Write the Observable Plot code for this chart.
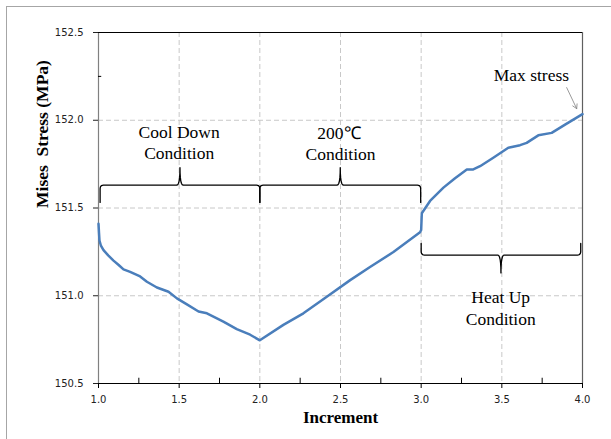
<!DOCTYPE html>
<html><head><meta charset="utf-8">
<script src="https://cdn.jsdelivr.net/npm/d3@7"></script>
<script src="https://cdn.jsdelivr.net/npm/@observablehq/plot@0.6"></script>
<style>
body{margin:0;background:#fff}
#chart{position:absolute;left:0;top:0}
#frame{position:absolute;left:6px;top:6px;width:620px;height:450px;border-left:1px solid #a6a6a6;border-top:1px solid #a6a6a6;pointer-events:none}
</style>
</head><body>
<div id="chart"></div><div id="frame"></div>
<script>
const increment = [1.0, 1.003, 1.006, 1.015, 1.031, 1.06, 1.093, 1.125, 1.155, 1.196, 1.258, 1.30, 1.362, 1.434, 1.486, 1.548, 1.62, 1.672, 1.774, 1.857, 1.94, 2.0, 2.146, 2.27, 2.415, 2.56, 2.683, 2.828, 2.993, 3.0, 3.004, 3.055, 3.138, 3.21, 3.283, 3.323, 3.365, 3.447, 3.54, 3.613, 3.654, 3.726, 3.809, 3.892, 4.0];
const stress = [151.41, 151.36, 151.315, 151.285, 151.26, 151.23, 151.20, 151.175, 151.15, 151.136, 151.11, 151.08, 151.047, 151.023, 150.985, 150.951, 150.91, 150.90, 150.853, 150.81, 150.778, 150.746, 150.834, 150.90, 150.994, 151.089, 151.164, 151.249, 151.362, 151.375, 151.47, 151.54, 151.616, 151.67, 151.72, 151.72, 151.738, 151.786, 151.843, 151.858, 151.871, 151.914, 151.928, 151.975, 152.035];

const xTicks = [1.0, 1.5, 2.0, 2.5, 3.0, 3.5, 4.0];
const xMinor = [1.25, 1.75, 2.25, 2.75, 3.25, 3.75];
const yTicks = [150.5, 151.0, 151.5, 152.0, 152.5];
const yMinor = [152.25];
const xGrid = [1.5, 2.0, 2.5, 3.0, 3.5];
const yGrid = [151.0, 151.5, 152.0];

// braces: [x0, x1, yLine, yEnd, yTip]
const braces = [
  [1.01, 2.0, 151.63, 151.532, 151.73],
  [2.0, 2.997, 151.63, 151.532, 151.73],
  [3.0, 3.989, 151.232, 151.298, 151.13]
];
const labels = [
  {x: 1.5, y: 151.933, t: "Cool Down"},
  {x: 1.5, y: 151.811, t: "Condition"},
  {x: 2.49, y: 151.924, t: "200℃"},
  {x: 2.5, y: 151.805, t: "Condition"},
  {x: 3.493, y: 150.989, t: "Heat Up"},
  {x: 3.493, y: 150.867, t: "Condition"},
  {x: 3.683, y: 152.258, t: "Max stress"}
];
const arrowData = [{x1: 3.902, y1: 152.186, x2: 3.964, y2: 152.066}];

const data = increment.map((x, i) => ({x, y: stress[i]}));

function quad(p0, c, p1, n = 6) {
  const pts = [];
  for (let i = 1; i <= n; i++) {
    const t = i / n;
    pts.push([(1-t)*(1-t)*p0[0] + 2*(1-t)*t*c[0] + t*t*p1[0], (1-t)*(1-t)*p0[1] + 2*(1-t)*t*c[1] + t*t*p1[1]]);
  }
  return pts;
}
function bracePts([x0, x1, y, yEnd, yTip], id) {
  const rx = 0.02, s = Math.sign(yEnd - y), ry = 0.022 * s;
  const xm = (x0 + x1) / 2;
  let pts = [[x0, yEnd], [x0, y + ry]];
  pts = pts.concat(quad([x0, y + ry], [x0, y], [x0 + rx, y]));
  pts.push([xm - rx, y]);
  pts = pts.concat(quad([xm - rx, y], [xm, y], [xm, yTip]));
  pts = pts.concat(quad([xm, yTip], [xm, y], [xm + rx, y]));
  pts.push([x1 - rx, y]);
  pts = pts.concat(quad([x1 - rx, y], [x1, y], [x1, y + ry]));
  pts.push([x1, yEnd]);
  return pts.map(([bx, by]) => ({x: bx, y: by, id}));
}
const braceData = braces.flatMap((b, i) => bracePts(b, i));

const serif = "'Liberation Serif', 'Times New Roman', serif";
const sans = "'DejaVu Sans', sans-serif";

const chart = Plot.plot({
  width: 611, height: 439,
  marginLeft: 98, marginRight: 29, marginTop: 32, marginBottom: 56,
  style: {background: "transparent", overflow: "visible"},
  x: {domain: [1, 4]},
  y: {domain: [150.5, 152.5]},
  marks: [
    Plot.ruleX(xGrid, {stroke: "#c8c8c8", strokeDasharray: "5,3", strokeWidth: 1}),
    Plot.ruleY(yGrid, {stroke: "#c8c8c8", strokeDasharray: "5,3", strokeWidth: 1}),
    Plot.ruleX([1], {stroke: "#808080", strokeWidth: 1.2}),
    Plot.ruleX([4], {stroke: "#606060", strokeWidth: 1.2}),
    Plot.ruleY([152.5], {stroke: "#000", strokeWidth: 1.2}),
    Plot.ruleY([150.5], {stroke: "#000", strokeWidth: 1.2}),
    Plot.ruleX(xMinor, {y1: 150.5, y2: 150.53, stroke: "#000"}),
    Plot.ruleY(yMinor, {x1: 1, x2: 1.02, stroke: "#000"}),
    Plot.axisX({ticks: xTicks, tickSize: 5, tickPadding: 7, tickFormat: d3.format(".1f"), fontFamily: sans, fontSize: 10, label: null, stroke: "#000", color: "#222"}),
    Plot.axisY({ticks: yTicks, tickSize: 5, tickPadding: 10, tickFormat: d3.format(".1f"), fontFamily: sans, fontSize: 10, label: null, color: "#222"}),
    Plot.line(data, {x: "x", y: "y", stroke: "#4a7ebb", strokeWidth: 2.5, strokeLinejoin: "round"}),
    Plot.line(braceData, {x: "x", y: "y", z: "id", stroke: "#000", strokeWidth: 1.3}),
    Plot.text(labels, {x: "x", y: "y", text: "t", fontFamily: serif, fontSize: 17.5, fill: "#000"}),
    Plot.arrow(arrowData, {x1: "x1", y1: "y1", x2: "x2", y2: "y2", stroke: "#808080", strokeWidth: 0.8, headLength: 9}),
    Plot.text(["Increment"], {frameAnchor: "bottom", dy: 39, fontFamily: serif, fontWeight: "bold", fontSize: 17, fill: "#000"}),
    Plot.text(["Mises\u00a0\u00a0Stress (MPa)"], {frameAnchor: "left", dx: -56, rotate: -90, fontFamily: serif, fontWeight: "bold", fontSize: 17.5, fill: "#000"})
  ]
});
document.getElementById("chart").appendChild(chart);
</script>
</body></html>
